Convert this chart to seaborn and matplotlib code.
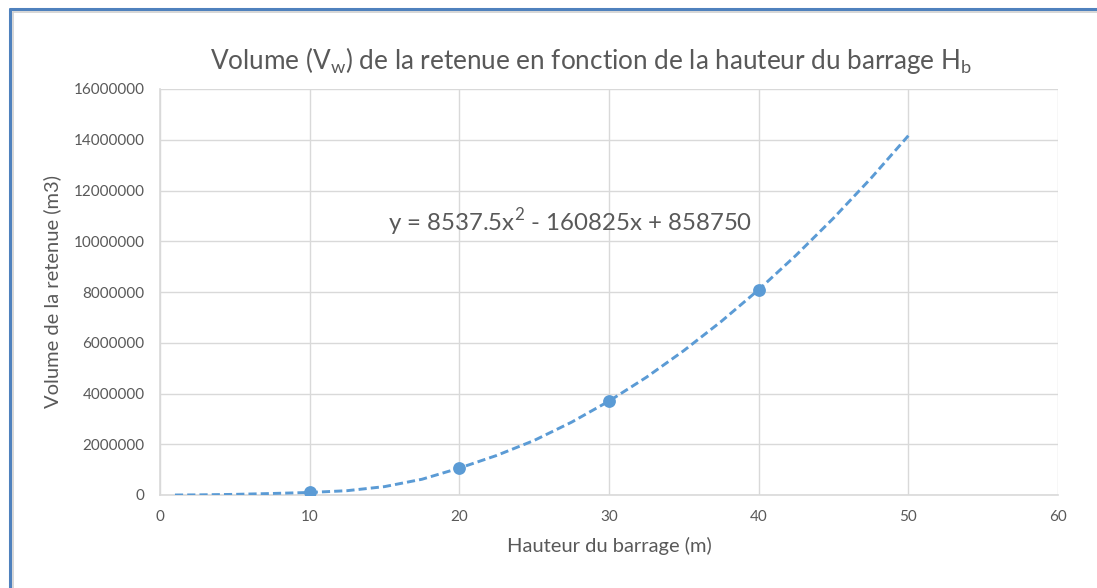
import numpy as np
import pandas as pd
import matplotlib
matplotlib.use("Agg")
import matplotlib.pyplot as plt
from matplotlib.lines import Line2D
import seaborn as sns

# Measured reservoir volume for each dam height
hauteur_mesures = [10, 20, 30, 40]
volume_mesures = [100000, 1060000, 3700000, 8090000]

# Smoothed dashed curve through the series
hauteur_courbe = [1, 2.5, 5, 7.5, 10, 12.5, 15, 17.5, 20, 22.5, 25, 27.5, 30,
                  32.5, 35, 37.5, 40, 42.5, 45, 47.5, 50]
volume_courbe = [0, 5000, 25000, 60000, 100000, 170000, 330000, 620000, 1060000,
                 1560000, 2150000, 2870000, 3700000, 4640000, 5690000, 6840000,
                 8090000, 9450000, 10910000, 12480000, 14160000]

# Polynomial trendline coefficients (a, b, c) for y = a x^2 + b x + c
coef_tendance = [8537.5, -160825, 858750]

x_ticks = [0, 10, 20, 30, 40, 50, 60]
y_ticks = [0, 2000000, 4000000, 6000000, 8000000, 10000000, 12000000, 14000000, 16000000]

sns.set_style("whitegrid")
plt.rcParams['font.family'] = ['Lato', 'DejaVu Sans']
plt.rcParams['mathtext.fontset'] = 'custom'
plt.rcParams['mathtext.rm'] = 'Lato'

BLEU = "#5B9BD5"
GRIS_TEXTE = "#595959"
GRIS_GRILLE = "#D9D9D9"

fig = plt.figure(figsize=(10.97, 5.88), dpi=100)
ax = fig.add_axes([160/1097, 1 - 495/588, (1058 - 160)/1097, (495 - 89)/588])

df_courbe = pd.DataFrame({"h": hauteur_courbe, "v": volume_courbe})
df_mes = pd.DataFrame({"h": hauteur_mesures, "v": volume_mesures})

sns.lineplot(data=df_courbe, x="h", y="v", ax=ax, color=BLEU, linewidth=2.1,
             dashes=False, zorder=3)
ax.lines[-1].set_dashes((2.8, 1.4))
ax.lines[-1].set_dash_capstyle("butt")
sns.scatterplot(data=df_mes, x="h", y="v", ax=ax, color=BLEU, s=85,
                edgecolor=BLEU, linewidth=0, zorder=4)

ax.set_xlim(0, 60)
ax.set_ylim(0, 16000000)
ax.set_xticks(x_ticks)
ax.set_yticks(y_ticks)
ax.set_xticklabels([str(t) for t in x_ticks])
ax.set_yticklabels([str(t) for t in y_ticks])
ax.tick_params(axis="both", length=0, labelsize=11, colors=GRIS_TEXTE)
ax.tick_params(axis="y", pad=11)
ax.tick_params(axis="x", pad=11)
ax.grid(True, color=GRIS_GRILLE, linewidth=1)
for side in ["top", "right"]:
    ax.spines[side].set_visible(False)
for side in ["left", "bottom"]:
    ax.spines[side].set_color(GRIS_GRILLE)
    ax.spines[side].set_linewidth(1.2)

ax.set_xlabel("Hauteur du barrage (m)", fontsize=14.5, color=GRIS_TEXTE, labelpad=9)
ax.set_ylabel("Volume de la retenue (m3)", fontsize=14.5, color=GRIS_TEXTE, labelpad=9)

a, b, c = coef_tendance
equation = f"y = {a:g}x$^{{2}}$ - {abs(b):g}x + {c:g}"
ax.text(27.4, 10760000, equation, ha="center", va="center", fontsize=17.3,
        color=GRIS_TEXTE)

fig.text(591/1097, 1 - 60/588,
         r"Volume (V$_\mathregular{w}$) de la retenue en fonction de la hauteur du barrage H$_\mathregular{b}$",
         ha="center", va="center", fontsize=18.8, color=GRIS_TEXTE)

# Frame around the chart area
fig.add_artist(Line2D([10/1097, 10/1097], [0, 1 - 9/588], transform=fig.transFigure,
                      color="#4F81BD", linewidth=2.2))
fig.add_artist(Line2D([10/1097, 1], [1 - 9/588, 1 - 9/588], transform=fig.transFigure,
                      color="#4F81BD", linewidth=2.2))
fig.add_artist(Line2D([12.5/1097, 12.5/1097], [0, 1 - 11.5/588], transform=fig.transFigure,
                      color="#D0D0D0", linewidth=1.2))
fig.add_artist(Line2D([12.5/1097, 1], [1 - 11.5/588, 1 - 11.5/588], transform=fig.transFigure,
                      color="#D0D0D0", linewidth=1.2))

fig.savefig("out.png", dpi=100)
